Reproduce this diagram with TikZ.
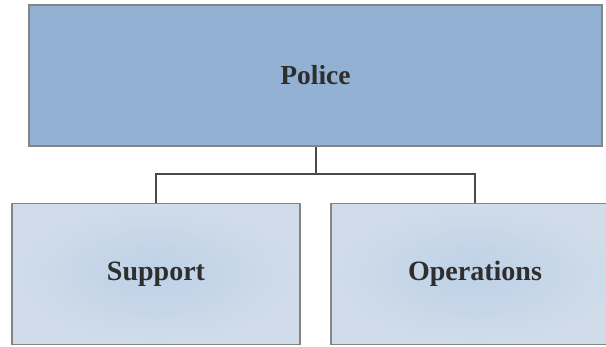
\documentclass[tikz,border=0pt]{standalone}
\usepackage{fontspec}
\setmainfont{Liberation Serif}
\definecolor{topfill}{HTML}{93B2D3}
\definecolor{boxinner}{HTML}{BED1E7}
\definecolor{boxouter}{HTML}{D0DCE9}
\definecolor{boxborder}{HTML}{858585}
\definecolor{linkcol}{HTML}{4A4A4A}
\definecolor{txtcol}{HTML}{2E2E2E}
\begin{document}
\begin{tikzpicture}[x=1pt,y=-1pt,
  topbox/.style={draw=boxborder, line width=1.6pt, fill=topfill, minimum width=573pt, minimum height=141pt, inner sep=0pt, font=\fontsize{27.5}{30}\selectfont\bfseries, text=txtcol},
  subbox/.style={draw=boxborder, line width=1.6pt, shading=radial, inner color=boxinner, outer color=boxouter, minimum width=288pt, minimum height=141pt, inner sep=0pt, font=\fontsize{28}{30}\selectfont\bfseries, text=txtcol},
  link/.style={draw=linkcol, line width=2pt}]
\useasboundingbox (0,0) rectangle (606,347);
\node[topbox] (police) at (315.5,75.5) {Police};
\node[subbox] (support) at (156,274) {Support};
\node[subbox] (ops) at (475,274) {Operations};
\coordinate (mid) at (315.5,174);
\draw[link] (police.south) -- (mid);
\draw[link] (support.north) |- (mid) -| (ops.north);
\end{tikzpicture}
\end{document}
